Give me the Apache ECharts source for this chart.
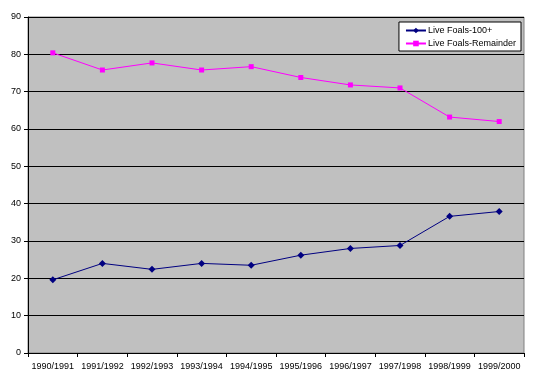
<!DOCTYPE html>
<html><head><meta charset="utf-8">
<script src="https://cdn.jsdelivr.net/npm/echarts@6/dist/echarts.min.js"></script>
<style>html,body{margin:0;padding:0;background:#fff}#c{width:542px;height:384px}</style>
</head><body><div id="c"></div>
<script>
var categories = ['1990/1991','1991/1992','1992/1993','1993/1994','1994/1995','1995/1996','1996/1997','1997/1998','1998/1999','1999/2000'];
var foals100 = [19.6, 24.0, 22.4, 24.0, 23.5, 26.2, 28.0, 28.8, 36.6, 37.9];
var foalsRemainder = [80.4, 75.8, 77.7, 75.8, 76.7, 73.8, 71.8, 71.0, 63.2, 62.0];
var seriesNames = ['Live Foals-100+', 'Live Foals-Remainder'];

var font = '"Liberation Sans", Arial, sans-serif';
var chart = echarts.init(document.getElementById('c'), null, {renderer: 'canvas'});
chart.setOption({
  animation: false,
  backgroundColor: '#ffffff',
  grid: {left: 28, right: 18, top: 17, bottom: 31, show: true, backgroundColor: '#c0c0c0', borderColor: '#808080', borderWidth: 1},
  legend: {
    orient: 'vertical', right: 21, top: 22,
    backgroundColor: '#ffffff', borderColor: '#000000', borderWidth: 1,
    padding: [4, 5, 3, 6], itemGap: 4, itemWidth: 20, itemHeight: 7,
    textStyle: {fontFamily: font, fontSize: 9, color: '#000', padding: [0,0,0,-3]},
    data: seriesNames
  },
  xAxis: {
    type: 'category', data: categories, boundaryGap: true,
    axisLine: {lineStyle: {color: '#000', width: 1}},
    axisTick: {show: true, length: 4, lineStyle: {color: '#000'}},
    axisLabel: {fontFamily: font, fontSize: 9, color: '#000', margin: 9, interval: 0},
    splitLine: {show: false}
  },
  yAxis: {
    type: 'value', min: 0, max: 90, interval: 10,
    axisLine: {show: true, lineStyle: {color: '#000', width: 1}},
    axisTick: {show: true, length: 4, lineStyle: {color: '#000'}},
    axisLabel: {fontFamily: font, fontSize: 9, color: '#000', margin: 7},
    splitLine: {show: true, lineStyle: {color: '#000', width: 1}}
  },
  series: [
    {name: seriesNames[0], type: 'line', data: foals100, symbol: 'diamond', symbolSize: 7,
     lineStyle: {color: '#000080', width: 1}, itemStyle: {color: '#000080'}},
    {name: seriesNames[1], type: 'line', data: foalsRemainder, symbol: 'rect', symbolSize: 5,
     lineStyle: {color: '#ff00ff', width: 1}, itemStyle: {color: '#ff00ff'}}
  ]
});
</script></body></html>
